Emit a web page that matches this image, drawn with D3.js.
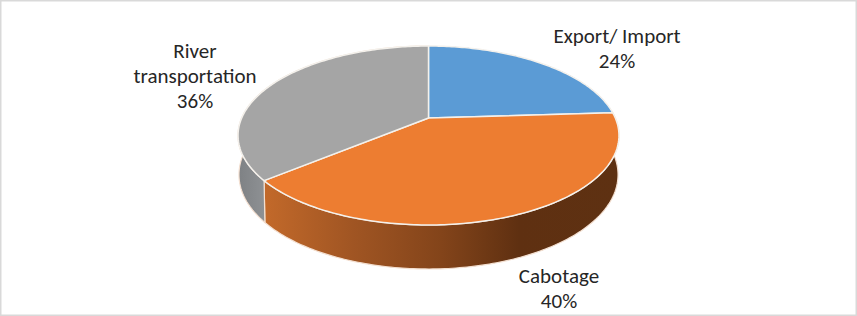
<!DOCTYPE html>
<html>
<head>
<meta charset="utf-8">
<script src="https://cdn.jsdelivr.net/npm/d3@7"></script>
<style>
  html, body { margin: 0; padding: 0; background: #fff; }
  svg { display: block; }
  text { font-family: Carlito, "Open Sans", "Noto Sans", sans-serif; font-size: 21px; fill: #262626; }
</style>
</head>
<body>
<script>
const categories = ['Export/ Import', 'Cabotage', 'River transportation'];
const values = [24, 40, 36];
const topColors = ['#5B9BD5', '#ED7D31', '#A5A5A5'];

const width = 857, height = 316;

const svg = d3.select('body').append('svg')
    .attr('width', width)
    .attr('height', height);

// frame round the picture
svg.append('rect')
    .attr('x', 0.5).attr('y', 0.5)
    .attr('width', width - 1).attr('height', height - 1)
    .attr('fill', '#fff').attr('stroke', '#d9d9d9').attr('stroke-width', 2);

// unit circle to screen, the disc is tilted so it needs a perspective divide
const cx = 428.5, cy = 118, k = 186.8, a = 63, c = -0.1955;
const project = t => {
    const x = Math.sin(t), y = -Math.cos(t), w = 1 + c * y;
    return [cx + k * x / w, (cy + a * y) / w];
};
const projectBottom = t => {
    const p = project(t), y = -Math.cos(t);
    return [cx + (p[0] - cx) * 0.995, p[1] + 38 + 6 * y];
};

const pie = d3.pie().sort(null).value(d => d);
const slices = pie(values);
const line = d3.line();

const steps = s => {
    const n = Math.ceil((s.endAngle - s.startAngle) * 60);
    return d3.range(n + 1).map(i => s.startAngle + (s.endAngle - s.startAngle) * i / n);
};

// side shading
const defs = svg.append('defs');
const orangeGrad = defs.append('linearGradient')
    .attr('id', 'orangeSide')
    .attr('gradientUnits', 'userSpaceOnUse')
    .attr('x1', 265).attr('x2', 618).attr('y1', 0).attr('y2', 0);
[[0, '#c2692a'], [0.25, '#a05523'], [0.5, '#83441a'], [0.72, '#5f3011'], [1, '#5e3112']]
    .forEach(d => orangeGrad.append('stop').attr('offset', d[0]).attr('stop-color', d[1]));
const greyGrad = defs.append('linearGradient')
    .attr('id', 'greySide')
    .attr('gradientUnits', 'userSpaceOnUse')
    .attr('x1', 238).attr('x2', 268).attr('y1', 0).attr('y2', 0);
[[0, '#7e8184'], [1, '#909396']]
    .forEach(d => greyGrad.append('stop').attr('offset', d[0]).attr('stop-color', d[1]));

const sideFills = ['#3f6f99', 'url(#orangeSide)', 'url(#greySide)'];

// walls first, the tops cover whatever is behind
svg.append('g').selectAll('path')
    .data(slices)
    .enter()
    .append('path')
    .attr('d', s => {
        const ts = steps(s);
        return line(ts.map(project).concat(ts.slice().reverse().map(projectBottom))) + 'Z';
    })
    .attr('fill', (d, i) => sideFills[i])
    .attr('stroke', '#f3dfd0')
    .attr('stroke-width', 1.2)
    .attr('stroke-opacity', (d, i) => i == 0 ? 0 : 1);

svg.append('g').selectAll('path')
    .data(slices)
    .enter()
    .append('path')
    .attr('d', s => line([[cx, cy]].concat(steps(s).map(project))) + 'Z')
    .attr('fill', (d, i) => topColors[i])
    .attr('stroke', '#f4f1ec')
    .attr('stroke-width', 1.5)
    .attr('stroke-linejoin', 'round');

// labels
const labelLines = [
    ['Export/ Import', values[0] + '%'],
    ['Cabotage', values[1] + '%'],
    ['River', 'transportation', values[2] + '%']
];
const labelAt = [[617, 43], [559, 283], [195, 57.5]];

labelLines.forEach((lines, i) => {
    const t = svg.append('text')
        .attr('text-anchor', 'middle')
        .attr('transform', `translate(${labelAt[i][0]},${labelAt[i][1]})`);
    t.selectAll('tspan')
        .data(lines)
        .enter()
        .append('tspan')
        .attr('x', 0)
        .attr('y', (d, j) => j * 25)
        .text(d => d);
});
</script>
</body>
</html>
